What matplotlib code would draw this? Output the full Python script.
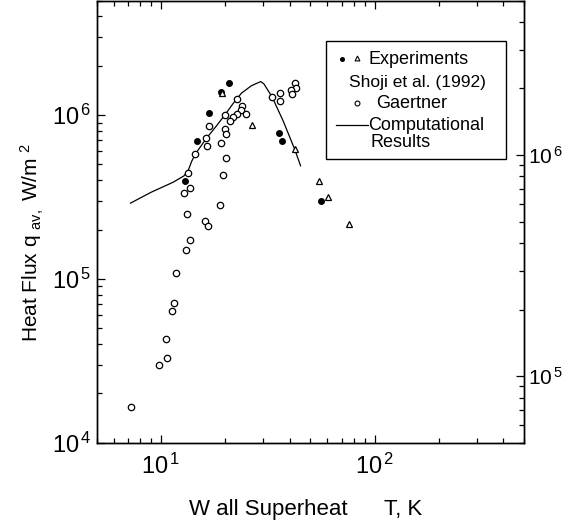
import numpy as np
import matplotlib
matplotlib.use("Agg")
import matplotlib.pyplot as plt
from matplotlib.patches import Rectangle
from matplotlib.ticker import LogLocator, NullFormatter, FuncFormatter

plt.rcParams['font.family'] = ['Liberation Sans', 'DejaVu Sans']
plt.rcParams['mathtext.fontset'] = 'custom'
plt.rcParams['mathtext.rm'] = 'Liberation Sans'
plt.rcParams['mathtext.it'] = 'Liberation Sans:italic'
plt.rcParams['mathtext.default'] = 'regular'

# Gaertner (open circles)
gaertner_dT = [42.4, 42.7, 40.8, 41.2, 36.2, 36.1, 33.1, 22.7, 23.9, 23.6,
               22.7, 21.8, 21.0, 20.0, 24.9, 16.7, 16.2, 16.5, 14.5, 13.4,
               13.7, 12.8, 13.2, 16.1, 16.6, 13.6, 13.1, 19.9, 20.1, 19.1,
               20.2, 19.6, 18.8, 11.7, 11.5, 11.3, 10.5, 10.7, 9.79, 7.21]
gaertner_q = [1.57e6, 1.47e6, 1.43e6, 1.35e6, 1.36e6, 1.21e6, 1.29e6, 1.25e6, 1.14e6, 1.07e6,
              1.02e6, 9.68e5, 9.23e5, 1.00e6, 1.01e6, 8.57e5, 7.19e5, 6.50e5, 5.79e5, 4.45e5,
              3.61e5, 3.35e5, 2.48e5, 2.26e5, 2.09e5, 1.72e5, 1.51e5, 8.22e5, 7.62e5, 6.74e5,
              5.50e5, 4.33e5, 2.81e5, 1.08e5, 7.16e4, 6.37e4, 4.30e4, 3.31e4, 2.96e4, 1.64e4]

# Shoji et al. (1992): filled circles and triangles
shoji_dot_dT = [20.8, 19.0, 16.7, 14.8, 12.9, 35.5, 36.9, 56.1]
shoji_dot_q = [1.57e6, 1.39e6, 1.03e6, 6.95e5, 3.98e5, 7.76e5, 6.95e5, 2.99e5]
shoji_tri_dT = [19.2, 26.7, 42.2, 54.7, 60.8, 75.9]
shoji_tri_q = [1.37e6, 8.73e5, 6.24e5, 3.98e5, 3.18e5, 2.15e5]

# computational results
comp_dT = [7.2, 9.0, 11.4, 12.8, 13.4, 13.9, 14.5, 16.3, 18.2, 20.0, 21.8,
           23.8, 26.5, 29.3, 30.3, 33.1, 37.3, 42.2, 45.0]
comp_q = [2.9e5, 3.38e5, 3.89e5, 4.25e5, 4.58e5, 5.2e5, 5.8e5, 7.2e5, 8.6e5, 1.01e6, 1.18e6,
          1.36e6, 1.51e6, 1.60e6, 1.55e6, 1.29e6, 9.2e5, 6.2e5, 4.9e5]

W, H = 576, 531
fig = plt.figure(figsize=(W / 100, H / 100), dpi=100)


def fx(px):
    return px / W


def fy(py):
    return 1 - py / H


pow10 = FuncFormatter(lambda v, p: r'$10^{\,%d}$' % round(np.log10(v)))

ax = fig.add_axes([fx(96.7), fy(442.7), fx(524) - fx(96.7), fy(0.5) - fy(442.7)])
ax.set_xscale('log')
ax.set_yscale('log')
ax.set_xlim(5, 500)
ax.set_ylim(1e4, 5e6)

ax.plot(comp_dT, comp_q, color='black', lw=0.9)
ax.plot(gaertner_dT, gaertner_q, 'o', ms=4.6, mfc='white', mec='black', mew=0.9, ls='none')
ax.plot(shoji_dot_dT, shoji_dot_q, 'o', ms=4.0, color='black', ls='none')
ax.plot(shoji_tri_dT, shoji_tri_q, '^', ms=4.6, mfc='white', mec='black', mew=0.9, ls='none')

ax.xaxis.set_major_formatter(pow10)
ax.yaxis.set_major_formatter(pow10)
ax.xaxis.set_minor_locator(LogLocator(base=10, subs=np.arange(2, 10)))
ax.xaxis.set_minor_formatter(NullFormatter())
ax.yaxis.set_minor_locator(LogLocator(base=10, subs=np.arange(2, 10)))
ax.yaxis.set_minor_formatter(NullFormatter())
ax.tick_params(which='both', direction='in', top=True, right=False, width=0.9)
ax.tick_params(which='major', length=6, labelsize=17)
ax.tick_params(which='minor', length=3.5)
ax.tick_params(axis='x', which='major', pad=8)
ax.tick_params(axis='y', which='major', pad=4)

ax2 = ax.twinx()
ax2.set_yscale('log')
ax2.set_ylim(5e4, 5e6)
ax2.yaxis.set_major_formatter(pow10)
ax2.yaxis.set_minor_locator(LogLocator(base=10, subs=np.arange(2, 10)))
ax2.yaxis.set_minor_formatter(NullFormatter())
ax2.tick_params(which='both', direction='in', width=0.9)
ax2.tick_params(which='major', length=6, labelsize=15, pad=3)
ax2.tick_params(which='minor', length=3.5)

for a in (ax, ax2):
    for s in a.spines.values():
        s.set_linewidth(1.0)

fig.text(fx(32), fy(242), r'Heat Flux q$\ _{av,}$ W/m$\ ^{2}$', rotation=90,
         ha='center', va='center', fontsize=15)
fig.text(fx(306), fy(509), 'W all Superheat      T, K', ha='center', va='center',
         fontsize=16)

# legend box
fig.patches.append(Rectangle((fx(326), fy(159)), fx(506) - fx(326), fy(41) - fy(159),
                             transform=fig.transFigure, fill=False, ec='black', lw=1.0))
fig.lines.append(plt.Line2D([fx(342)], [fy(59)], marker='o', ms=2.6, color='black',
                            transform=fig.transFigure))
fig.lines.append(plt.Line2D([fx(357)], [fy(58)], marker='^', ms=3.5, mfc='white', mec='black',
                            mew=0.8, transform=fig.transFigure))
fig.lines.append(plt.Line2D([fx(357)], [fy(103)], marker='o', ms=3.5, mfc='white', mec='black',
                            mew=0.8, transform=fig.transFigure))
fig.lines.append(plt.Line2D([fx(336), fx(368)], [fy(125), fy(125)], color='black', lw=0.9,
                            transform=fig.transFigure))
leg_fs = 13
fig.text(fx(369), fy(59), 'Experiments', ha='left', va='center', fontsize=leg_fs)
fig.text(fx(349), fy(82), 'Shoji et al. (1992)', ha='left', va='center', fontsize=12.5)
fig.text(fx(376), fy(104), 'Gaertner', ha='left', va='center', fontsize=leg_fs)
fig.text(fx(368), fy(126), 'Computational', ha='left', va='center', fontsize=leg_fs)
fig.text(fx(370), fy(143), 'Results', ha='left', va='center', fontsize=leg_fs)

fig.savefig('out.png', dpi=100)
